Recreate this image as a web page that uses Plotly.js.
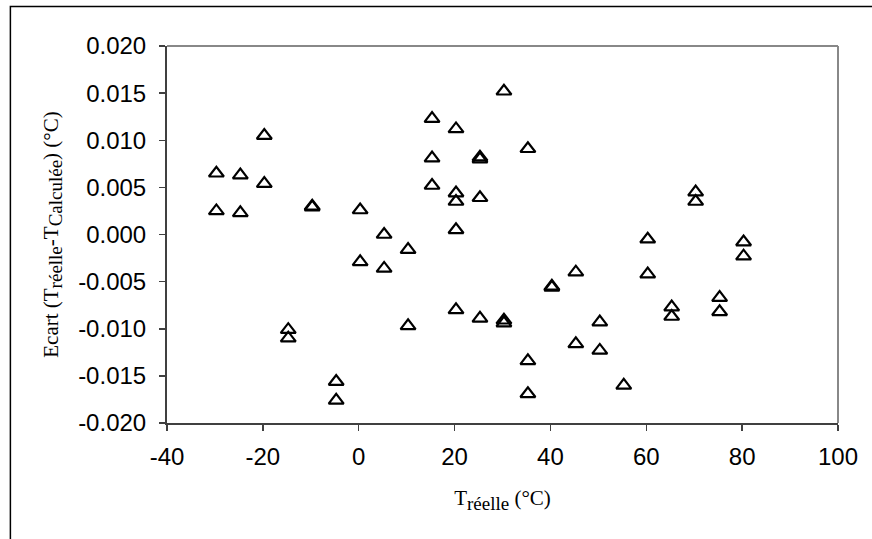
<!DOCTYPE html>
<html>
<head>
<meta charset="utf-8">
<script src="https://cdn.plot.ly/plotly-3.0.1.min.js"></script>
<style>html,body{margin:0;padding:0;background:#fff;}#chart{width:872px;height:539px;}</style>
</head>
<body>
<div id="chart"></div>
<script>
const treelle = [-29.7,-29.7,-24.7,-24.7,-19.7,-19.7,-14.7,-14.7,-9.7,-9.7,-4.7,-4.7,0.3,0.3,5.3,5.3,10.3,10.3,
  15.3,15.3,15.3,20.3,20.3,20.3,20.3,20.3,25.3,25.3,25.3,25.3,30.3,30.3,30.3,35.3,35.3,35.3,40.3,40.3,
  45.3,45.3,50.3,50.3,55.3,60.3,60.3,65.3,65.3,70.3,70.3,75.3,75.3,80.3,80.3];
const ecart = [0.0065,0.0025,0.0063,0.0023,0.0105,0.0054,-0.0101,-0.0110,0.0030,0.0029,-0.0156,-0.0176,0.0026,-0.0029,0.0000,-0.0036,-0.0016,-0.0097,
  0.0123,0.0081,0.0052,0.0112,0.0044,0.0035,0.0005,-0.0080,0.0082,0.0080,0.0039,-0.0089,0.0152,-0.0091,-0.0094,0.0091,-0.0134,-0.0169,-0.0055,-0.0056,
  -0.0040,-0.0116,-0.0093,-0.0123,-0.0160,-0.0005,-0.0042,-0.0077,-0.0087,0.0045,0.0035,-0.0067,-0.0082,-0.0008,-0.0023];
const xTicks = [-40,-20,0,20,40,60,80,100];
const yTicks = [-0.020,-0.015,-0.010,-0.005,0.000,0.005,0.010,0.015,0.020];

const trace = {
  x: treelle, y: ecart, type: 'scatter', mode: 'markers',
  marker: {symbol: 'triangle-up-open', size: 13, color: '#000', line: {color: '#000', width: 2.2}},
  cliponaxis: false, hoverinfo: 'skip'
};

const sub = t => '<sub><span style="font-size:19px">' + t + '</span></sub>';
const tickFont = {family: 'Liberation Sans, Arial, sans-serif', size: 24, color: '#000'};
const titleFont = {family: 'Liberation Serif, Times New Roman, serif', size: 21, color: '#000'};

const layout = {
  width: 872, height: 539,
  margin: {l: 167, r: 34, t: 46, b: 116},
  paper_bgcolor: '#fff', plot_bgcolor: '#fff',
  showlegend: false,
  font: {family: 'Liberation Sans, Arial, sans-serif', size: 24, color: '#000'},
  xaxis: {
    range: [-40, 100], tickvals: xTicks, ticktext: xTicks.map(String),
    showgrid: false, zeroline: false, showline: true, linecolor: '#404040', linewidth: 2,
    ticks: 'outside', ticklen: 6, tickwidth: 1.5, tickcolor: '#404040',
    ticklabelstandoff: 5,
    tickfont: tickFont,
    title: {text: 'T' + sub('réelle') + ' (°C)', standoff: 22, font: titleFont}
  },
  yaxis: {
    range: [-0.020, 0.020], tickvals: yTicks, ticktext: yTicks.map(v => v.toFixed(3)),
    showgrid: false, zeroline: false, showline: true, linecolor: '#404040', linewidth: 2,
    ticks: 'outside', ticklen: 6, tickwidth: 1.5, tickcolor: '#404040',
    ticklabelstandoff: 8,
    tickfont: tickFont,
    title: {text: 'Ecart (T' + sub('réelle') + '-T' + sub('Calculée') + ') (°C)', standoff: 14, font: titleFont}
  },
  shapes: [
    {type: 'line', xref: 'paper', yref: 'paper', x0: 0, x1: 1, y0: 1, y1: 1, line: {color: '#888', width: 2}, layer: 'below'},
    {type: 'line', xref: 'paper', yref: 'paper', x0: 1, x1: 1, y0: 0, y1: 1, line: {color: '#888', width: 2}, layer: 'below'},
    {type: 'rect', xref: 'paper', yref: 'paper', x0: -0.2334, x1: 1.07, y0: -0.34, y1: 1.1048, line: {color: '#000', width: 1.5}, layer: 'below'}
  ]
};

Plotly.newPlot('chart', [trace], layout, {displayModeBar: false, staticPlot: true});
</script>
</body>
</html>
